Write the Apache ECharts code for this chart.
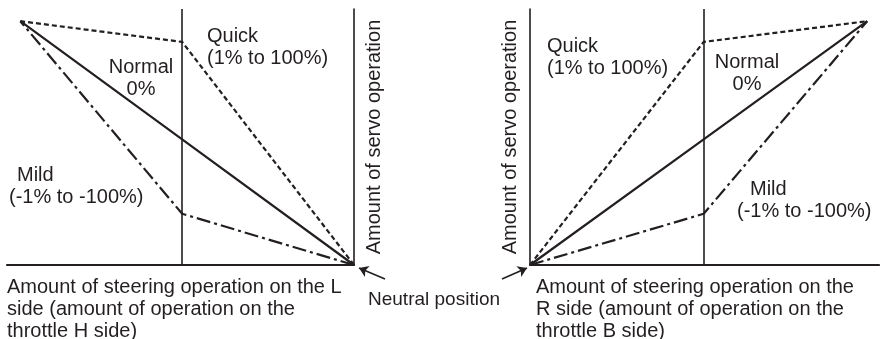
<!DOCTYPE html>
<html>
<head>
<meta charset="utf-8">
<script src="https://cdn.jsdelivr.net/npm/echarts@6/dist/echarts.min.js"></script>
<style>
  html, body { margin: 0; padding: 0; background: #fff; }
  #chart { width: 880px; height: 339px; }
</style>
</head>
<body>
<div id="chart"></div>
<script>
// steering stroke (%) at the break points, same for both sides
const steering = [0, 51.5, 100];
// servo amount (%) for each curve at those points
const quickServo = [0, 91.5, 100];
const normalServo = [0, 51.5, 100];
const mildServo = [0, 21, 100];

const servoTitle = 'Amount of servo operation';
const steeringTitles = [
  'Amount of steering operation on the L\nside (amount of operation on the\nthrottle H side)',
  'Amount of steering operation on the\nR side (amount of operation on the\nthrottle B side)'
];
const neutralText = 'Neutral position';

const ink = '#231f20';
const font = '"Liberation Sans", Arial, Helvetica, sans-serif';

// line look per curve
const curves = [
  { name: 'Quick', values: quickServo, type: [5, 3] },
  { name: 'Normal', values: normalServo, type: 'solid' },
  { name: 'Mild', values: mildServo, type: [14, 4, 3, 4] }
];

function panelAxes(idx, max, inverse) {
  return {
    x: {
      gridIndex: idx, type: 'value', min: 0, max: max, inverse: inverse,
      axisLine: { lineStyle: { color: ink, width: 2.2 } },
      axisTick: { show: false }, axisLabel: { show: false }, splitLine: { show: false }
    },
    y: {
      gridIndex: idx, type: 'value', min: 0, max: 105,
      position: inverse ? 'right' : 'left',
      axisLine: { show: true, lineStyle: { color: ink, width: 1.6 } },
      axisTick: { show: false }, axisLabel: { show: false }, splitLine: { show: false },
      name: servoTitle, nameLocation: 'middle', nameRotate: 90, nameGap: 10,
      nameTextStyle: { color: ink, fontSize: 20, fontFamily: font }
    }
  };
}

const left = panelAxes(0, 104, true);
const right = panelAxes(1, 103.5, false);

let series = [];
[0, 1].forEach(function (p) {
  curves.forEach(function (c, i) {
    let s = {
      name: c.name + p,
      type: 'line',
      xAxisIndex: p, yAxisIndex: p,
      symbol: 'none',
      silent: true,
      z: 3,
      data: steering.map(function (x, k) { return [x, c.values[k]]; }),
      lineStyle: { color: ink, width: 2.2, type: c.type }
    };
    if (i === 1) {
      // middle guide line and the neutral-position arrow
      s.markLine = {
        silent: true,
        symbol: 'none',
        label: { show: false },
        lineStyle: { color: ink, width: 1.6, type: 'solid' },
        data: [
          { xAxis: steering[1] },
          p === 0
            ? [{ x: 385, y: 279, symbol: 'none' }, { x: 359, y: 268, symbol: 'arrow', symbolSize: 9 }]
            : [{ x: 502, y: 279, symbol: 'none' }, { x: 527, y: 268, symbol: 'arrow', symbolSize: 9 }]
        ]
      };
    }
    series.push(s);
  });
});

function txt(x, y, text, align, size) {
  return {
    type: 'text', x: x, y: y, silent: true,
    style: {
      text: text, fill: ink, font: (size || 20) + 'px ' + font,
      lineHeight: 22, align: align || 'left', verticalAlign: 'top'
    }
  };
}

let option = {
  animation: false,
  backgroundColor: '#fff',
  grid: [
    { left: 7, width: 347, top: 9, height: 256 },
    { left: 530, width: 349, top: 9, height: 256 }
  ],
  xAxis: [left.x, right.x],
  yAxis: [left.y, right.y],
  series: series,
  graphic: [
    // left panel curve labels
    txt(207, 25, 'Quick\n(1% to 100%)'),
    txt(141, 56, 'Normal\n0%', 'center'),
    txt(17, 164, 'Mild'),
    txt(9, 186, '(-1% to -100%)'),
    // right panel curve labels
    txt(547, 35, 'Quick\n(1% to 100%)'),
    txt(747, 51, 'Normal\n0%', 'center'),
    txt(750, 178, 'Mild'),
    txt(737, 200, '(-1% to -100%)'),
    // axis titles under each panel
    txt(7, 276, steeringTitles[0]),
    txt(536, 276, steeringTitles[1]),
    txt(368, 289, neutralText, 'left', 19)
  ]
};

let chart = echarts.init(document.getElementById('chart'), null, { renderer: 'canvas' });
chart.setOption(option);
window.addEventListener('resize', function () {
  chart.resize();
});
</script>
</body>
</html>
